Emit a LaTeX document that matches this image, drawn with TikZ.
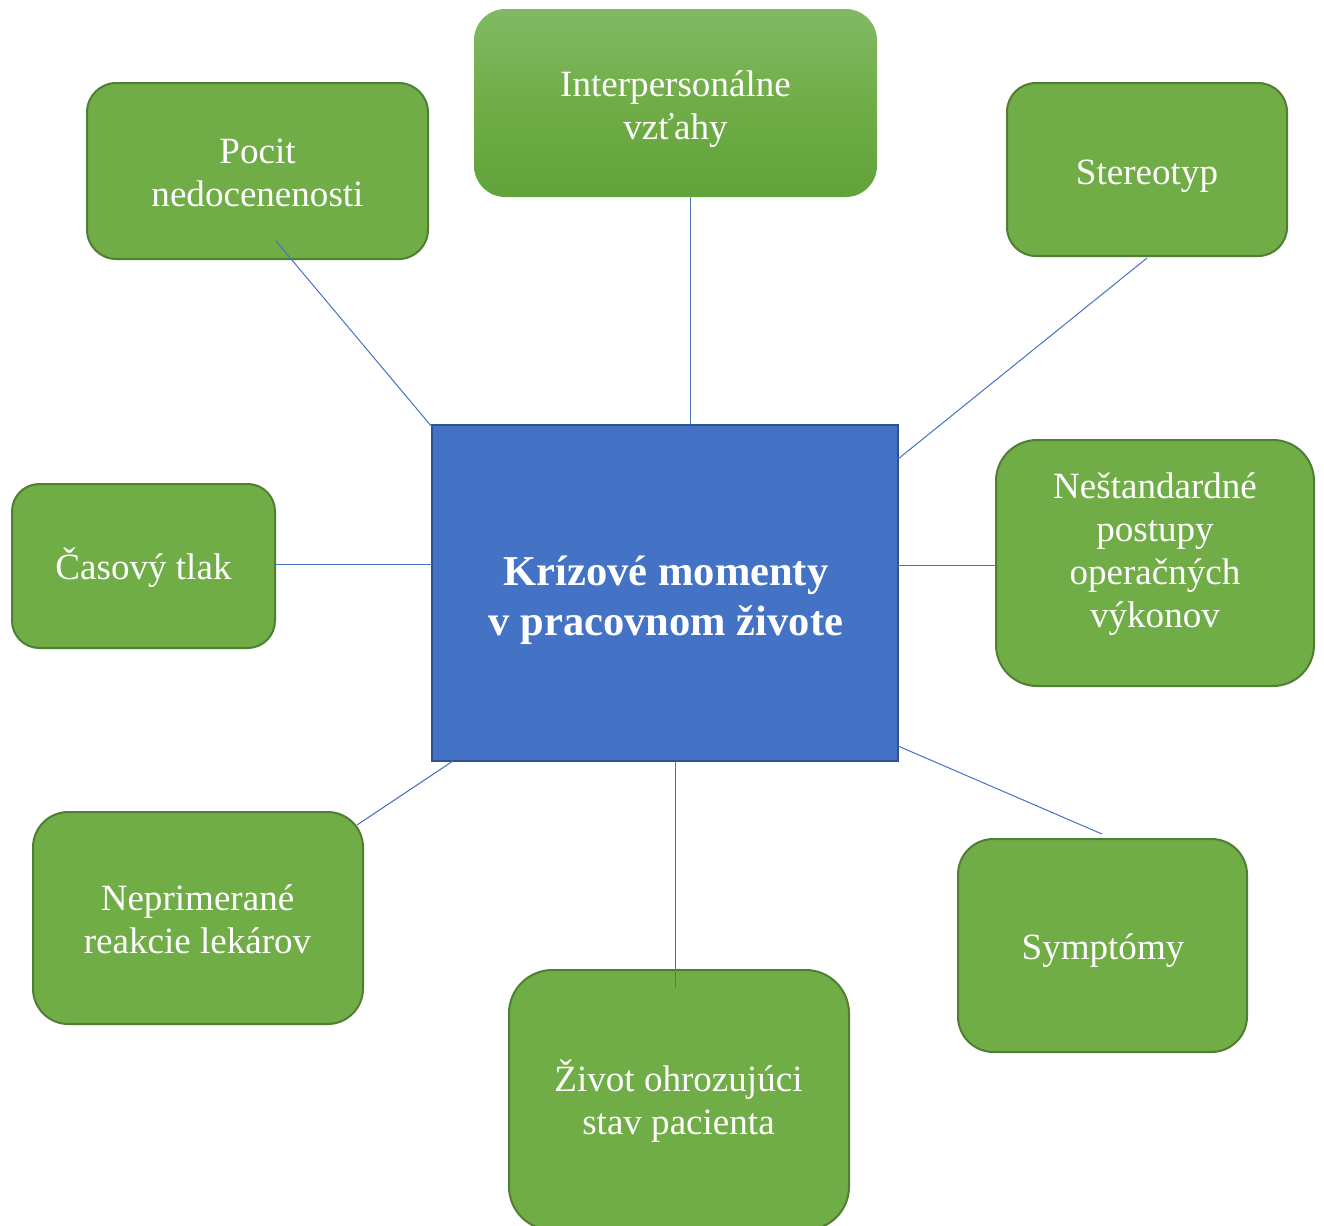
\documentclass[tikz,border=0pt]{standalone}
\usepackage{fontspec}
\setmainfont{Liberation Serif}
\definecolor{gfill}{HTML}{70AD47}
\definecolor{gline}{HTML}{507E32}
\definecolor{bfill}{HTML}{4472C4}
\definecolor{bline}{HTML}{2F528F}
\definecolor{gtop}{HTML}{82B965}
\definecolor{gbot}{HTML}{62A23A}
\tikzset{
  gbox/.style={draw=gline, fill=gfill, line width=1.5pt, inner sep=0pt},
  gradbox/.style={top color=gtop, bottom color=gbot, middle color=gfill, draw=none, inner sep=0pt},
  cbox/.style={draw=bline, fill=bfill, line width=1.5pt, inner sep=0pt},
  txt/.style={text=white, align=center, font=\fontsize{27.8pt}{32.3pt}\selectfont},
  ctxt/.style={text=white, align=center, font=\fontsize{31.9pt}{37.5pt}\selectfont\bfseries},
  conn/.style={draw=bfill, line width=0.75pt}
}
\begin{document}
\begin{tikzpicture}[x=0.75pt,y=-0.75pt]
\useasboundingbox (0,0) rectangle (1324,1225);
% central
\node[cbox, minimum width=349.5pt, minimum height=252pt] (center) at (665,593) {};
\node[ctxt] (ctext) at (666,600) {Krízové momenty\\v pracovnom živote};
% boxes
\node[gbox, rounded corners=22pt, minimum width=255.75pt, minimum height=132pt] (pocit) at (257.5,171) {};
\node[txt] (pocittext) at (257.5,173) {Pocit\\nedocenenosti};
\node[gradbox, rounded corners=23.5pt, minimum width=302.25pt, minimum height=141pt] (inter) at (675.5,103) {};
\node[txt] (intertext) at (675.5,109) {Interpersonálne\\vzťahy};
\node[gbox, rounded corners=21.6pt, minimum width=210pt, minimum height=129.75pt] (stereo) at (1147,169.5) {};
\node[txt] (stereotext) at (1147,176) {Stereotyp};
\node[gbox, rounded corners=20.5pt, minimum width=197.25pt, minimum height=123pt] (cas) at (143.5,566) {};
\node[txt] (castext) at (143.5,568) {Časový tlak};
\node[gbox, rounded corners=30.75pt, minimum width=238.5pt, minimum height=184.5pt] (nes) at (1155,563) {};
\node[txt] (nestext) at (1155,554) {Neštandardné\\postupy\\operačných\\výkonov};
\node[gbox, rounded corners=26.5pt, minimum width=247.5pt, minimum height=159pt] (nepr) at (198,918) {};
\node[txt] (neprtext) at (197.5,919) {Neprimerané\\reakcie lekárov};
\node[gbox, rounded corners=32.5pt, minimum width=255pt, minimum height=195pt] (zivot) at (679,1100) {};
\node[txt] (zivottext) at (678.5,1101) {Život ohrozujúci\\stav pacienta};
\node[gbox, rounded corners=26.6pt, minimum width=216.75pt, minimum height=159.75pt] (sympt) at (1102.5,945.5) {};
\node[txt] (sympttext) at (1103,950.5) {Symptómy};
% connector end points
\coordinate (p1) at (276,241);  \coordinate (p2) at (432,427);
\coordinate (i1) at (690,197);  \coordinate (i2) at (690,425);
\coordinate (s1) at (1147,258); \coordinate (s2) at (898,459);
\coordinate (c1) at (275,564);  \coordinate (c2) at (432,564);
\coordinate (n1) at (898,565);  \coordinate (n2) at (996,565);
\coordinate (y1) at (898,746);  \coordinate (y2) at (1102,834);
\coordinate (z1) at (675,761);  \coordinate (z2) at (675,988);
\coordinate (r1) at (453,761);  \coordinate (r2) at (357,825);
\draw[conn] (p1) -- (p2);
\draw[conn] (i1) -- (i2);
\draw[conn] (s1) -- (s2);
\draw[conn] (c1) -- (c2);
\draw[conn] (n1) -- (n2);
\draw[conn] (y1) -- (y2);
\draw[conn] (z1) -- (z2);
\draw[conn] (r1) -- (r2);
\end{tikzpicture}
\end{document}
